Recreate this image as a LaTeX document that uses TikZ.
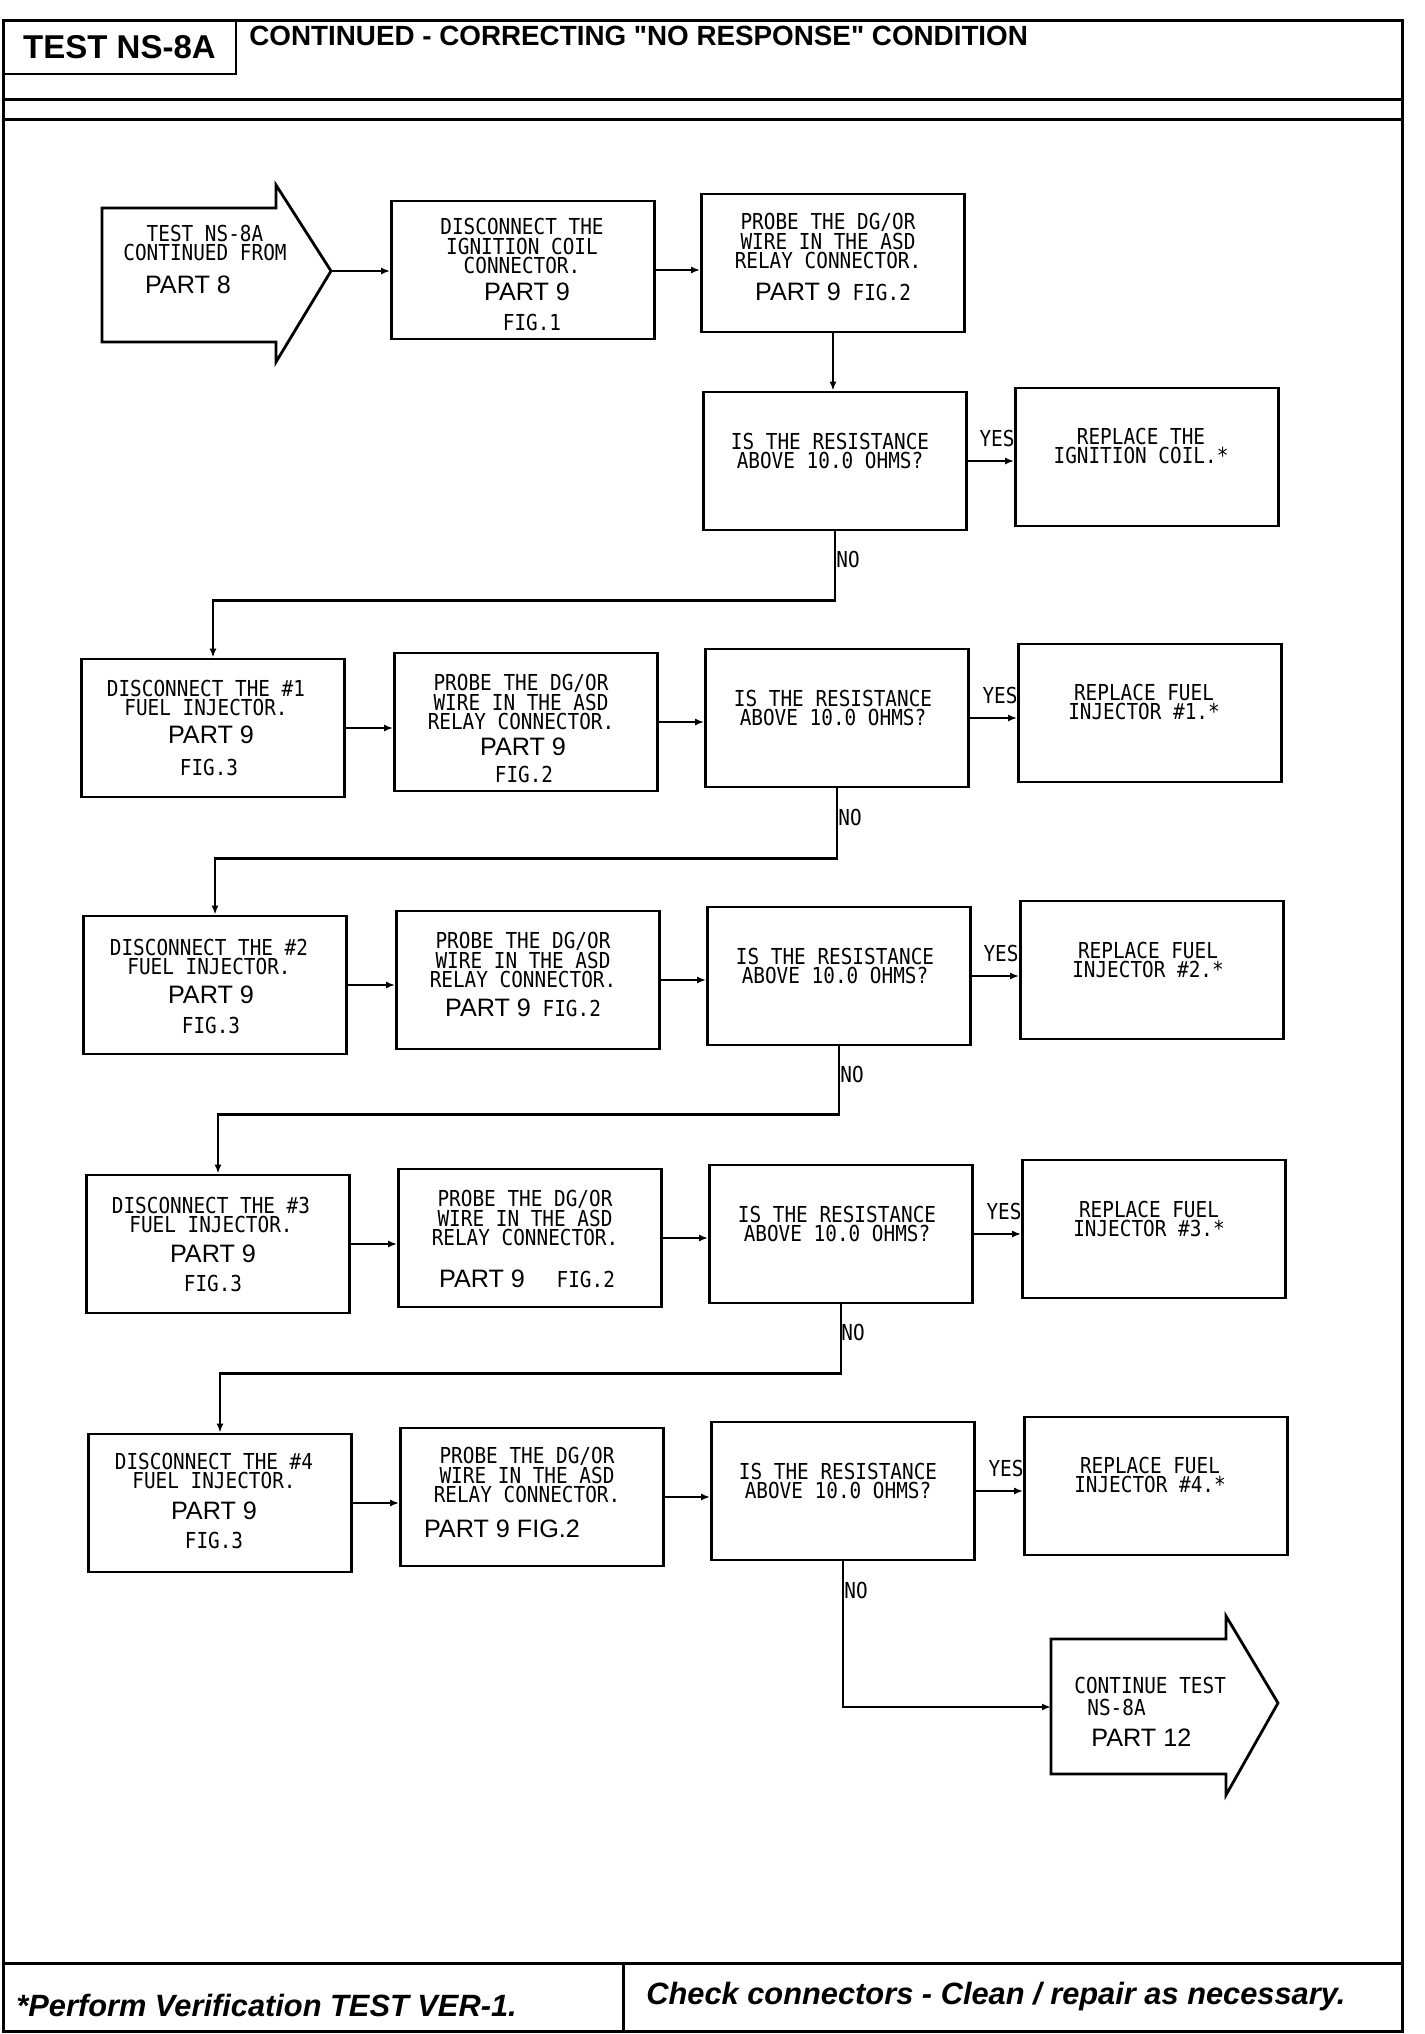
\documentclass[tikz,border=0pt]{standalone}
\usepackage{fontspec}
\usepackage{tikz}
\usetikzlibrary{arrows.meta,positioning,calc}
\setmainfont{Liberation Sans}
\newfontfamily\plotfamily{DejaVu Sans Mono}[FakeStretch=0.88]
\newfontfamily\titlefamily{Liberation Sans}[Ligatures=TeXOff]
\newcommand\plotfnt{\plotfamily\fontsize{11}{9.75}\selectfont\lineskiplimit=-10pt}
\newcommand\partfnt{\rmfamily\fontsize{12.6}{14}\selectfont}
\newcommand\hdrfnt{\rmfamily\bfseries\fontsize{16.5}{18}\selectfont}
\newcommand\titlefnt{\titlefamily\bfseries\fontsize{13.9}{15}\selectfont}
\newcommand\footfnt{\rmfamily\bfseries\itshape\fontsize{15.4}{17}\selectfont}
\definecolor{ink}{HTML}{000000}
\tikzset{
  stepbox/.style={draw=ink,line width=1.4pt,minimum width=131.5pt,
                  minimum height=69pt,inner sep=0pt},
  plottxt/.style={font=\plotfnt,align=center,inner sep=0pt,text=ink},
  parttxt/.style={font=\partfnt,inner sep=0pt,text=ink},
  flowarr/.style={-{Latex[length=4.5pt,width=3.5pt]},line width=1.2pt,
                  draw=ink},
  framelin/.style={line width=1.5pt,draw=ink},
  bigarrow/.style={draw=ink,line width=1.4pt,line join=miter}
}

\begin{document}
\begin{tikzpicture}[x=0.5pt,y=-0.5pt]
    \path[use as bounding box,fill=white] (0,0) rectangle (1424,2034);

    % frame, header and footer
    \draw[framelin] (3,20) rectangle (1402,2031);
    \draw[framelin] (3,99) -- (1402,99);
    \draw[framelin] (3,119) -- (1402,119);
    \node[draw=ink,line width=1.2pt,minimum width=116.5pt,minimum height=27pt,
          font=\hdrfnt] (testid) at (119.5,47) {TEST NS-8A};
    \node[font=\titlefnt,anchor=west,inner sep=0pt] (title) at (249,36)
      {CONTINUED - CORRECTING "NO RESPONSE" CONDITION};
    \draw[framelin] (3,1963) -- (1402,1963);
    \draw[framelin] (623,1963) -- (623,2031);
    \node[font=\footfnt,anchor=west,inner sep=0pt] (verify) at (16,2005)
      {*Perform Verification TEST VER-1.};
    \node[font=\footfnt,anchor=west,inner sep=0pt] (clean) at (646,1997)
      {Check connectors - Clean / repair as necessary.};

    % entry arrow
    \draw[bigarrow] (102,208) -- (276,208) -- (276,185) -- (331,271)
      -- (276,362) -- (276,342) -- (102,342) -- cycle;
    \coordinate (starttip) at (331,271);
    \node[plottxt] (startt) at (205,243) {TEST NS-8A\\CONTINUED FROM};
    \node[parttxt] (startp) at (188,285) {PART 8};

    % ignition coil
    \node[stepbox] (coil) at (523,270) {};
    \node[plottxt] (coilt) at (522,246)
      {DISCONNECT THE\\IGNITION COIL\\CONNECTOR.};
    \node[parttxt] (coilp) at (527,292) {PART 9};
    \node[plottxt] (coilf) at (532,322) {FIG.1};
    \node[stepbox] (probe0) at (833,263) {};
    \node[plottxt] (probe0t) at (828,241)
      {PROBE THE DG/OR\\WIRE IN THE ASD\\RELAY CONNECTOR.};
    \node[plottxt] (probe0p) at (833,292) {{\partfnt PART 9} FIG.2};
    \node[stepbox] (ask0) at (835,461) {};
    \node[plottxt] (ask0t) at (830,451) {IS THE RESISTANCE\\ABOVE 10.0 OHMS?};
    \node[stepbox] (repl0) at (1147,457) {};
    \node[plottxt] (repl0t) at (1141,446) {REPLACE THE\\IGNITION COIL.*};
    \node[plottxt] (yes0) at (997,438) {YES};
    \node[plottxt] (no0) at (848,559) {NO};

    % injector 1
    \node[stepbox] (disc1) at (213,728) {};
    \node[plottxt] (disc1t) at (206,698) {DISCONNECT THE \#1\\FUEL INJECTOR.};
    \node[parttxt] (disc1p) at (211,735) {PART 9};
    \node[plottxt] (disc1f) at (209,767) {FIG.3};
    \node[stepbox] (probe1) at (526,722) {};
    \node[plottxt] (probe1t) at (521,702)
      {PROBE THE DG/OR\\WIRE IN THE ASD\\RELAY CONNECTOR.};
    \node[parttxt] (probe1p) at (523,747) {PART 9};
    \node[plottxt] (probe1f) at (524,774) {FIG.2};
    \node[stepbox] (ask1) at (837,718) {};
    \node[plottxt] (ask1t) at (833,708) {IS THE RESISTANCE\\ABOVE 10.0 OHMS?};
    \node[stepbox] (repl1) at (1150,713) {};
    \node[plottxt] (repl1t) at (1144,702) {REPLACE FUEL\\INJECTOR \#1.*};
    \node[plottxt] (yes1) at (1000,695) {YES};
    \node[plottxt] (no1) at (850,817) {NO};

    % injector 2
    \node[stepbox] (disc2) at (215,985) {};
    \node[plottxt] (disc2t) at (209,957) {DISCONNECT THE \#2\\FUEL INJECTOR.};
    \node[parttxt] (disc2p) at (211,995) {PART 9};
    \node[plottxt] (disc2f) at (211,1025) {FIG.3};
    \node[stepbox] (probe2) at (528,980) {};
    \node[plottxt] (probe2t) at (523,960)
      {PROBE THE DG/OR\\WIRE IN THE ASD\\RELAY CONNECTOR.};
    \node[plottxt] (probe2p) at (523,1008) {{\partfnt PART 9} FIG.2};
    \node[stepbox] (ask2) at (839,976) {};
    \node[plottxt] (ask2t) at (835,966) {IS THE RESISTANCE\\ABOVE 10.0 OHMS?};
    \node[stepbox] (repl2) at (1152,970) {};
    \node[plottxt] (repl2t) at (1148,960) {REPLACE FUEL\\INJECTOR \#2.*};
    \node[plottxt] (yes2) at (1001,953) {YES};
    \node[plottxt] (no2) at (852,1074) {NO};

    % injector 3
    \node[stepbox] (disc3) at (218,1244) {};
    \node[plottxt] (disc3t) at (211,1215) {DISCONNECT THE \#3\\FUEL INJECTOR.};
    \node[parttxt] (disc3p) at (213,1254) {PART 9};
    \node[plottxt] (disc3f) at (213,1283) {FIG.3};
    \node[stepbox] (probe3) at (530,1238) {};
    \node[plottxt] (probe3t) at (525,1218)
      {PROBE THE DG/OR\\WIRE IN THE ASD\\RELAY CONNECTOR.};
    \node[plottxt] (probe3p) at (527,1279) {{\partfnt PART 9}\hspace{10pt} FIG.2};
    \node[stepbox] (ask3) at (841,1234) {};
    \node[plottxt] (ask3t) at (837,1224) {IS THE RESISTANCE\\ABOVE 10.0 OHMS?};
    \node[stepbox] (repl3) at (1154,1229) {};
    \node[plottxt] (repl3t) at (1149,1219) {REPLACE FUEL\\INJECTOR \#3.*};
    \node[plottxt] (yes3) at (1004,1211) {YES};
    \node[plottxt] (no3) at (853,1332) {NO};

    % injector 4
    \node[stepbox] (disc4) at (220,1503) {};
    \node[plottxt] (disc4t) at (214,1471) {DISCONNECT THE \#4\\FUEL INJECTOR.};
    \node[parttxt] (disc4p) at (214,1511) {PART 9};
    \node[plottxt] (disc4f) at (214,1540) {FIG.3};
    \node[stepbox] (probe4) at (532,1497) {};
    \node[plottxt] (probe4t) at (527,1475)
      {PROBE THE DG/OR\\WIRE IN THE ASD\\RELAY CONNECTOR.};
    \node[parttxt] (probe4p) at (502,1529) {PART 9 FIG.2};
    \node[stepbox] (ask4) at (843,1491) {};
    \node[plottxt] (ask4t) at (838,1481) {IS THE RESISTANCE\\ABOVE 10.0 OHMS?};
    \node[stepbox] (repl4) at (1156,1486) {};
    \node[plottxt] (repl4t) at (1150,1475) {REPLACE FUEL\\INJECTOR \#4.*};
    \node[plottxt] (yes4) at (1006,1468) {YES};
    \node[plottxt] (no4) at (856,1590) {NO};

    % exit arrow
    \draw[bigarrow] (1051,1639) -- (1226,1639) -- (1226,1616) -- (1278,1703)
      -- (1226,1795) -- (1226,1774) -- (1051,1774) -- cycle;
    \coordinate (contin) at (1051,1707);
    \node[plottxt,anchor=west] (contt) at (1074,1685) {CONTINUE TEST};
    \node[plottxt,anchor=west] (contn) at (1087,1707) {NS-8A};
    \node[parttxt,anchor=west] (contp) at (1091,1738) {PART 12};

    % connectors
    \draw[flowarr] (starttip) -- (starttip -| coil.west);
    \draw[flowarr] (coil.east) -- (coil.east -| probe0.west);
    \draw[flowarr] (probe0.south) -- (probe0.south |- ask0.north);
    \draw[flowarr] (ask0.east) -- (ask0.east -| repl0.west);
    \draw[flowarr] (ask0.south) -- ++(0,69) -| (disc1.north);

    \draw[flowarr] (disc1.east) -- (disc1.east -| probe1.west);
    \draw[flowarr] (probe1.east) -- (probe1.east -| ask1.west);
    \draw[flowarr] (ask1.east) -- (ask1.east -| repl1.west);
    \draw[flowarr] (ask1.south) -- ++(0,70) -| (disc2.north);

    \draw[flowarr] (disc2.east) -- (disc2.east -| probe2.west);
    \draw[flowarr] (probe2.east) -- (probe2.east -| ask2.west);
    \draw[flowarr] (ask2.east) -- (ask2.east -| repl2.west);
    \draw[flowarr] (ask2.south) -- ++(0,68) -| (disc3.north);

    \draw[flowarr] (disc3.east) -- (disc3.east -| probe3.west);
    \draw[flowarr] (probe3.east) -- (probe3.east -| ask3.west);
    \draw[flowarr] (ask3.east) -- (ask3.east -| repl3.west);
    \draw[flowarr] (ask3.south) -- ++(0,69) -| (disc4.north);

    \draw[flowarr] (disc4.east) -- (disc4.east -| probe4.west);
    \draw[flowarr] (probe4.east) -- (probe4.east -| ask4.west);
    \draw[flowarr] (ask4.east) -- (ask4.east -| repl4.west);
    \draw[flowarr] (ask4.south) |- (contin);
\end{tikzpicture}
\end{document}
